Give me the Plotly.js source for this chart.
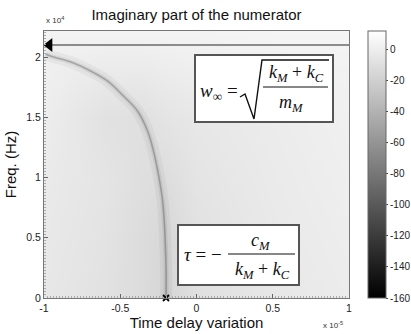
<!DOCTYPE html>
<html>
<head>
<meta charset="utf-8">
<script src="https://cdn.plot.ly/plotly-3.0.1.min.js"></script>
<style>html,body{margin:0;padding:0;background:#fff;}#chart{width:411px;height:334px;}</style>
</head>
<body>
<div id="chart"></div>
<script>
// ---- data (x in units of 1e-5, y in units of 1e4 Hz, z in dB) ----
const gridX = [-1, -0.6, -0.35, -0.2, 0, 0.5, 1];
const gridY = [0, 0.5, 1, 1.5, 2, 2.2];
const gridZ = [
  [-4, -8, -12, -16, -9, -4, -1],
  [-3, -7, -12, -15, -8, -3, 0],
  [-2, -6, -10, -11, -6, -2, 1],
  [0, -8, -9, -6, -4, -1, 2],
  [2, 0, 0, 1, 2, 3, 4],
  [4, 4, 4, 4, 4, 5, 5]
];
const curveX = [-0.99, -0.957, -0.807, -0.695, -0.584, -0.479, -0.387, -0.321, -0.282, -0.249, -0.223, -0.21, -0.203, -0.199, -0.2];
const curveY = [2.025, 2.008, 1.95, 1.884, 1.801, 1.676, 1.552, 1.386, 1.22, 1.021, 0.813, 0.606, 0.398, 0.191, 0.0];
const tauX = [-0.2];
const tauY = [0];
const wInf = 2.1;
const arrowX = [-0.965, 1];
const arrowY = [wInf, wInf];
const xTickVals = [-1, -0.5, 0, 0.5, 1];
const xTickText = ['-1', '-0.5', '0', '0.5', '1'];
const yTickVals = [0, 0.5, 1, 1.5, 2];
const yTickText = ['0', '0.5', '1', '1.5', '2'];
const cbTickVals = [0, -20, -40, -60, -80, -100, -120, -140, -160];
const cbTickText = ['0', '-20', '-40', '-60', '-80', '-100', '-120', '-140', '-160'];

// ---- layout helpers (pixel -> paper) ----
const L = 44, R = 349, T = 31, B = 298;
const px = x => (x - L) / (R - L);
const py = y => (B - y) / (B - T);
const serif = 'Liberation Serif, DejaVu Serif, serif';
const sans = 'Liberation Sans, Arial, sans-serif';

const traces = [
  {
    type: 'heatmap', x: gridX, y: gridY, z: gridZ, zsmooth: 'best',
    zmin: -160, zmax: 12,
    colorscale: [[0, 'rgb(0,0,0)'], [1, 'rgb(255,255,255)']],
    colorbar: {
      x: px(368), xanchor: 'left', xpad: 0, y: 0.5, yanchor: 'middle', len: 1, ypad: 0,
      thickness: 18, outlinewidth: 1, outlinecolor: '#666',
      tickmode: 'array', tickvals: cbTickVals, ticktext: cbTickText,
      ticks: 'outside', ticklen: 2, tickcolor: '#444',
      tickfont: {family: sans, size: 10, color: '#222'}
    },
    hoverinfo: 'skip'
  },
  {type: 'scatter', mode: 'lines', x: curveX, y: curveY, line: {color: 'rgba(0,0,0,0.04)', width: 12, shape: 'spline'}, hoverinfo: 'skip', showlegend: false},
  {type: 'scatter', mode: 'lines', x: curveX, y: curveY, line: {color: 'rgba(0,0,0,0.06)', width: 5, shape: 'spline'}, hoverinfo: 'skip', showlegend: false},
  {type: 'scatter', mode: 'lines', x: curveX, y: curveY, line: {color: 'rgba(60,60,60,0.32)', width: 1.6, shape: 'spline'}, hoverinfo: 'skip', showlegend: false},
  {type: 'scatter', mode: 'lines', x: arrowX, y: arrowY, line: {color: '#6a6a6a', width: 1.5}, hoverinfo: 'skip', showlegend: false},
  {type: 'scatter', mode: 'markers', x: [arrowX[0]], y: [arrowY[0]], marker: {symbol: 'triangle-left', size: 12, color: '#000'}, hoverinfo: 'skip', showlegend: false},
  {type: 'scatter', mode: 'markers', x: tauX, y: tauY, marker: {symbol: 'x-thin', size: 6, color: '#000', line: {width: 1.8, color: '#000'}}, cliponaxis: false, hoverinfo: 'skip', showlegend: false}
];

const shapes = [
  {type: 'rect', xref: 'paper', yref: 'paper', x0: px(195), x1: px(333), y0: py(122), y1: py(55), line: {color: '#555', width: 2}, fillcolor: '#fff', layer: 'above'},
  {type: 'rect', xref: 'paper', yref: 'paper', x0: px(178), x1: px(299), y0: py(285), y1: py(225), line: {color: '#555', width: 2}, fillcolor: '#fff', layer: 'above'},
  // sqrt sign
  {type: 'path', xref: 'paper', yref: 'paper', layer: 'above', line: {color: '#111', width: 1.4},
   path: 'M ' + px(240) + ',' + py(97) + ' L ' + px(245) + ',' + py(94) + ' L ' + px(254) + ',' + py(119) + ' L ' + px(262) + ',' + py(60) + ' L ' + px(329) + ',' + py(60)},
  {type: 'line', xref: 'paper', yref: 'paper', layer: 'above', x0: px(263), x1: px(328), y0: py(87), y1: py(87), line: {color: '#111', width: 1.2}},
  {type: 'line', xref: 'paper', yref: 'paper', layer: 'above', x0: px(228), x1: px(295), y0: py(254), y1: py(254), line: {color: '#111', width: 1.2}}
];

const fa = (text, x, y, size, extra) => Object.assign({
  text: text, xref: 'paper', yref: 'paper', x: px(x), y: py(y), xanchor: 'center', yanchor: 'middle',
  showarrow: false, font: {family: serif, size: size, color: '#111'}
}, extra || {});

const annotations = [
  fa('<i>w</i><sub>∞</sub> =', 219, 92, 19),
  fa('<i>k</i><sub><i>M</i></sub> + <i>k</i><sub><i>C</i></sub>', 296, 73, 18),
  fa('<i>m</i><sub><i>M</i></sub>', 291, 103, 18),
  fa('<i>τ</i> = −', 203, 254, 19),
  fa('<i>c</i><sub><i>M</i></sub>', 261, 241, 18),
  fa('<i>k</i><sub><i>M</i></sub> + <i>k</i><sub><i>C</i></sub>', 262, 270, 18),
  {text: 'x 10<sup>4</sup>', xref: 'paper', yref: 'paper', x: px(55), y: py(20), xanchor: 'center', yanchor: 'middle', showarrow: false, font: {family: sans, size: 8, color: '#333'}},
  {text: 'x 10<sup>-5</sup>', xref: 'paper', yref: 'paper', x: px(333), y: py(325), xanchor: 'center', yanchor: 'middle', showarrow: false, font: {family: sans, size: 8, color: '#333'}}
];

const layout = {
  width: 411, height: 334,
  margin: {l: L, r: 411 - R, t: T, b: 334 - B, pad: 0, autoexpand: false},
  paper_bgcolor: '#fff', plot_bgcolor: '#fff',
  showlegend: false,
  title: {text: 'Imaginary part of the numerator', xref: 'paper', x: 0.5, xanchor: 'center', yref: 'container', y: 1 - 15 / 334, yanchor: 'middle',
          font: {family: sans, size: 15, color: '#111'}},
  xaxis: {
    range: [-1, 1], tickmode: 'array', tickvals: xTickVals, ticktext: xTickText,
    ticks: 'inside', ticklen: 4, tickcolor: '#666', showgrid: false, zeroline: false,
    showline: true, linecolor: '#777', linewidth: 1, mirror: true, automargin: false,
    tickfont: {family: sans, size: 10.5, color: '#222'},
    minor: {ticks: 'inside', ticklen: 2, dtick: 0.02, tickcolor: '#aaa', showgrid: false},
    title: {text: 'Time delay variation', font: {family: sans, size: 15, color: '#111'}, standoff: 4}
  },
  yaxis: {
    range: [0, (B - T) / 120.5], tickmode: 'array', tickvals: yTickVals, ticktext: yTickText,
    ticks: 'inside', ticklen: 4, tickcolor: '#666', showgrid: false, zeroline: false,
    showline: true, linecolor: '#777', linewidth: 1, mirror: true, automargin: false,
    tickfont: {family: sans, size: 10.5, color: '#222'},
    minor: {ticks: 'inside', ticklen: 2, dtick: 0.025, tickcolor: '#aaa', showgrid: false},
    title: {text: 'Freq. (Hz)', font: {family: sans, size: 15, color: '#111'}, standoff: 6}
  },
  shapes: shapes,
  annotations: annotations
};

Plotly.newPlot('chart', traces, layout, {staticPlot: true, displayModeBar: false});
</script>
</body>
</html>
